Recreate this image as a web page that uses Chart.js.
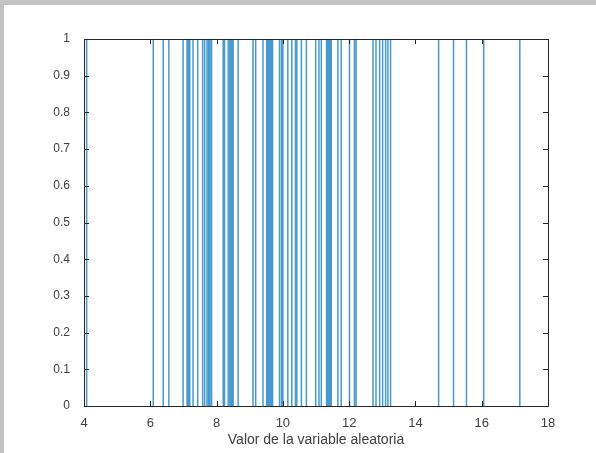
<!DOCTYPE html>
<html>
<head>
<meta charset="utf-8">
<script src="https://cdn.jsdelivr.net/npm/chart.js@4/dist/chart.umd.min.js"></script>
<style>
  html, body { margin: 0; padding: 0; background: #c4c4c4; }
  #wrap { position: absolute; left: 4px; top: 5px; width: 592px; height: 448px; background: #fff; }
</style>
</head>
<body>
<div id="wrap"><canvas id="myChart" width="592" height="448"></canvas></div>
<script>
// x positions of the vertical lines
var lineX = [
  4.08, 6.09, 6.39, 6.56, 6.99, 7.11, 7.15, 7.19, 7.29, 7.43, 7.58, 7.64, 7.71, 7.76, 7.80, 7.85,
  8.20, 8.24, 8.35, 8.40, 8.43, 8.47, 8.50, 8.65, 9.10, 9.18, 9.40, 9.51, 9.55, 9.57, 9.60,
  9.63, 9.66, 9.69, 9.90, 9.96, 10.00, 10.15, 10.27, 10.38, 10.42, 10.56, 10.71, 10.99,
  11.09, 11.16, 11.32, 11.35, 11.39, 11.43, 11.46, 11.66, 11.76, 12.01, 12.16, 12.21,
  12.72, 12.81, 12.92, 13.01, 13.10, 13.17, 13.25,
  14.70, 15.15, 15.54, 16.06, 17.15
]
var lineLow = 0
var lineHigh = 1
var xTicks = [4, 6, 8, 10, 12, 14, 16, 18]
var yTicks = [0, 0.1, 0.2, 0.3, 0.4, 0.5, 0.6, 0.7, 0.8, 0.9, 1]
var xTitle = 'Valor de la variable aleatoria'

// each line goes low -> high, then a gap
var pts = []
lineX.forEach(function (v) {
  pts.push({ x: v, y: lineLow })
  pts.push({ x: v, y: lineHigh })
  pts.push({ x: v, y: null })
})

var axisColor = '#262626'

// MATLAB style box with inward ticks
var boxPlugin = {
  id: 'box',
  afterDraw: function (chart) {
    var ctx = chart.ctx
    var a = chart.chartArea
    var xs = chart.scales.x, ys = chart.scales.y
    ctx.save()
    ctx.strokeStyle = axisColor
    ctx.lineWidth = 1
    ctx.beginPath()
    ctx.rect(Math.round(a.left) + 0.5, Math.round(a.top) + 0.5,
      Math.round(a.right - a.left), Math.round(a.bottom - a.top))
    ctx.stroke()
    ctx.beginPath()
    xTicks.forEach(function (t) {
      var px = Math.round(xs.getPixelForValue(t)) + 0.5
      ctx.moveTo(px, a.bottom); ctx.lineTo(px, a.bottom - 5)
      ctx.moveTo(px, a.top); ctx.lineTo(px, a.top + 5)
    })
    yTicks.forEach(function (t) {
      var py = Math.round(ys.getPixelForValue(t)) + 0.5
      ctx.moveTo(a.left, py); ctx.lineTo(a.left + 5, py)
      ctx.moveTo(a.right, py); ctx.lineTo(a.right - 5, py)
    })
    ctx.stroke()
    ctx.restore()
  }
}

var ctx = document.getElementById('myChart').getContext('2d')
var chart = new Chart(ctx, {
  type: 'line',
  data: {
    datasets: [{
      data: pts,
      borderColor: 'rgba(0, 114, 189, 0.72)',
      borderWidth: 1.5,
      pointRadius: 0,
      spanGaps: false,
      tension: 0
    }]
  },
  options: {
    responsive: false,
    animation: false,
    layout: { padding: { left: 0, top: 34, right: 48, bottom: 0 } },
    plugins: {
      legend: { display: false },
      tooltip: { enabled: false }
    },
    scales: {
      x: {
        type: 'linear',
        min: 4,
        max: 18,
        afterBuildTicks: function (s) { s.ticks = xTicks.map(function (v) { return { value: v } }) },
        afterFit: function (s) { s.height = 47 },
        grid: { display: false },
        border: { display: false },
        ticks: { color: '#404040', font: { family: 'Liberation Sans', size: 13 }, padding: 2, maxRotation: 0 },
        title: { display: true, text: xTitle, color: '#404040', font: { family: 'Liberation Sans', size: 14 }, padding: { top: 3 } }
      },
      y: {
        type: 'linear',
        min: 0,
        max: 1,
        afterBuildTicks: function (s) { s.ticks = yTicks.map(function (v) { return { value: v } }) },
        afterFit: function (s) { s.width = 80 },
        grid: { display: false },
        border: { display: false },
        ticks: { color: '#404040', font: { family: 'Liberation Sans', size: 12 }, padding: 6,
          callback: function (v) { return String(Math.round(v * 10) / 10) } }
      }
    }
  },
  plugins: [boxPlugin]
})
</script>
</body>
</html>
